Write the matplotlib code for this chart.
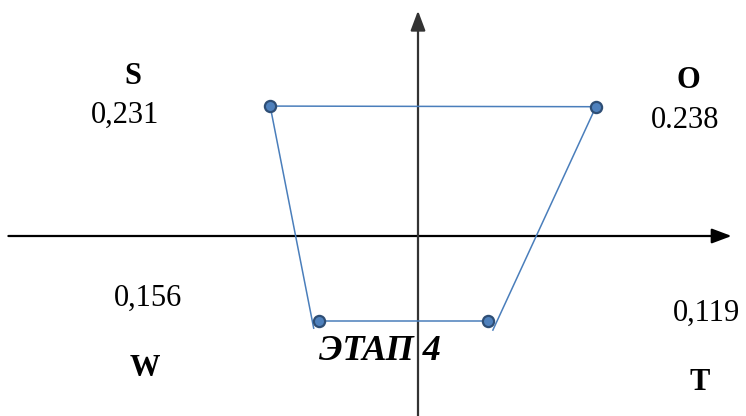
import numpy as np
import matplotlib
matplotlib.use("Agg")
from matplotlib import pyplot as plt

#---------------------------------------------------------------------------
# SWOT quadrant values (stage 4)
labels = ["S", "O", "T", "W"]
values = ["0,231", "0.238", "0,119", "0,156"]

# point positions (same unit on both axes)
pts_x = [-0.231, 0.278, 0.109, -0.155]
pts_y = [0.203, 0.202, -0.133, -0.133]

# ends of the two side lines (they overshoot the lower markers a little)
side_left = (-0.163, -0.144)
side_right = (0.117, -0.147)

title = "ЭТАП 4"

#---------------------------------------------------------------------------
plt.rcParams['font.family'] = ['Liberation Serif', 'DejaVu Serif']

fig = plt.figure(figsize=(7.46, 4.16), dpi=100)
ax = fig.add_axes([0, 0, 1, 1])
ax.set_xlim(-418 / 640, 328 / 640)
ax.set_ylim(-180 / 640, 236 / 640)
ax.set_aspect('equal')
ax.axis('off')

# axes with arrows
arrow = '-|>,head_length=1.2,head_width=0.45'
ax.annotate('', xy=(0.49, 0), xytext=(-0.64, 0),
            arrowprops=dict(arrowstyle=arrow, color='black', lw=1.6,
                            shrinkA=0, shrinkB=0))
ax.annotate('', xy=(0, 0.352), xytext=(0, -0.29),
            arrowprops=dict(arrowstyle=arrow, color='#333333', lw=1.6,
                            shrinkA=0, shrinkB=0))

line_col = '#4A7EBB'
# S -> O -> down
ax.plot([pts_x[0], pts_x[1], side_right[0]], [pts_y[0], pts_y[1], side_right[1]],
        color=line_col, lw=1.1, zorder=3)
# S -> down
ax.plot([pts_x[0], side_left[0]], [pts_y[0], side_left[1]],
        color=line_col, lw=1.1, zorder=3)
# W -> T
ax.plot([pts_x[3], pts_x[2]], [pts_y[3], pts_y[2]], color=line_col, lw=1.1, zorder=3)

ax.scatter(pts_x, pts_y, s=65, color='#4F81BD', edgecolor='#2E4E75', linewidth=1.6, zorder=4)

# quadrant labels (pixel spots in the figure)
lab_pos = [(133, 76), (688, 81), (700, 383), (145, 368)]
val_pos = [(125, 115), (685, 121), (706, 313), (148, 298)]
for lab, val, lp, vp in zip(labels, values, lab_pos, val_pos):
    fig.text(lp[0] / 746, 1 - lp[1] / 416, lab, ha='center', va='center',
             fontsize=22, fontweight='bold')
    fig.text(vp[0] / 746, 1 - vp[1] / 416, val, ha='center', va='center',
             fontsize=22)

fig.text(380 / 746, 1 - 351 / 416, title, ha='center', va='center',
         fontsize=26, fontweight='bold', fontstyle='italic')

fig.savefig('out.png', dpi=100)
